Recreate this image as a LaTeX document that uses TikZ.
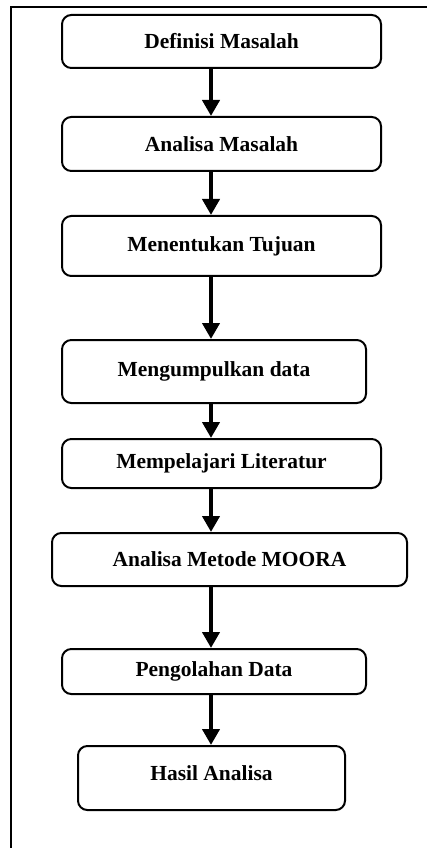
\documentclass[tikz,border=0pt]{standalone}
\usepackage{fontspec}
\setmainfont{Liberation Serif}
\usetikzlibrary{arrows.meta}

\newcommand{\px}{0.75pt}
\tikzset{
  stepbox/.style={draw,line width=1.5pt,rounded corners=7pt,
    font=\fontsize{16.1}{19}\selectfont\bfseries,inner sep=0pt},
  flow/.style={line width=3.6pt,-{Triangle[width=12.75pt,length=12pt]}}
}

\begin{document}
\begin{tikzpicture}[x=0.75pt,y=-0.75pt]
    \useasboundingbox (0,0) rectangle (427,848);
    \draw[line width=1.5pt] (427,7) -- (11,7) -- (11,848);
    \coordinate (axis) at (211,0);
    \node[stepbox,minimum width=319*\px,minimum height=53*\px] (B1) at (221.5,41.5) {Definisi Masalah};
    \node[stepbox,minimum width=319*\px,minimum height=54*\px] (B2) at (221.5,144) {Analisa Masalah};
    \node[stepbox,minimum width=319*\px,minimum height=60*\px] (B3) at (221.5,246) {Menentukan Tujuan};
    \node[stepbox,minimum width=304*\px,minimum height=63*\px] (B4) at (214,371.5) {Mengumpulkan data};
    \node[stepbox,minimum width=319*\px,minimum height=49*\px] (B5) at (221.5,463.5) {Mempelajari Literatur};
    \node[stepbox,minimum width=355*\px,minimum height=53*\px] (B6) at (229.5,559.5) {Analisa Metode MOORA};
    \node[stepbox,minimum width=304*\px,minimum height=45*\px] (B7) at (214,671.5) {Pengolahan Data};
    \node[stepbox,minimum width=267*\px,minimum height=64*\px,text depth=7.5pt] (B8) at (211.5,778) {Hasil Analisa};
    \path[flow]
      (B1.south -| axis) edge (B2.north -| axis)
      (B2.south -| axis) edge (B3.north -| axis)
      (B3.south -| axis) edge (B4.north -| axis)
      (B4.south -| axis) edge (B5.north -| axis)
      (B5.south -| axis) edge (B6.north -| axis)
      (B6.south -| axis) edge (B7.north -| axis)
      (B7.south -| axis) edge (B8.north -| axis);
  \end{tikzpicture}
\end{document}
